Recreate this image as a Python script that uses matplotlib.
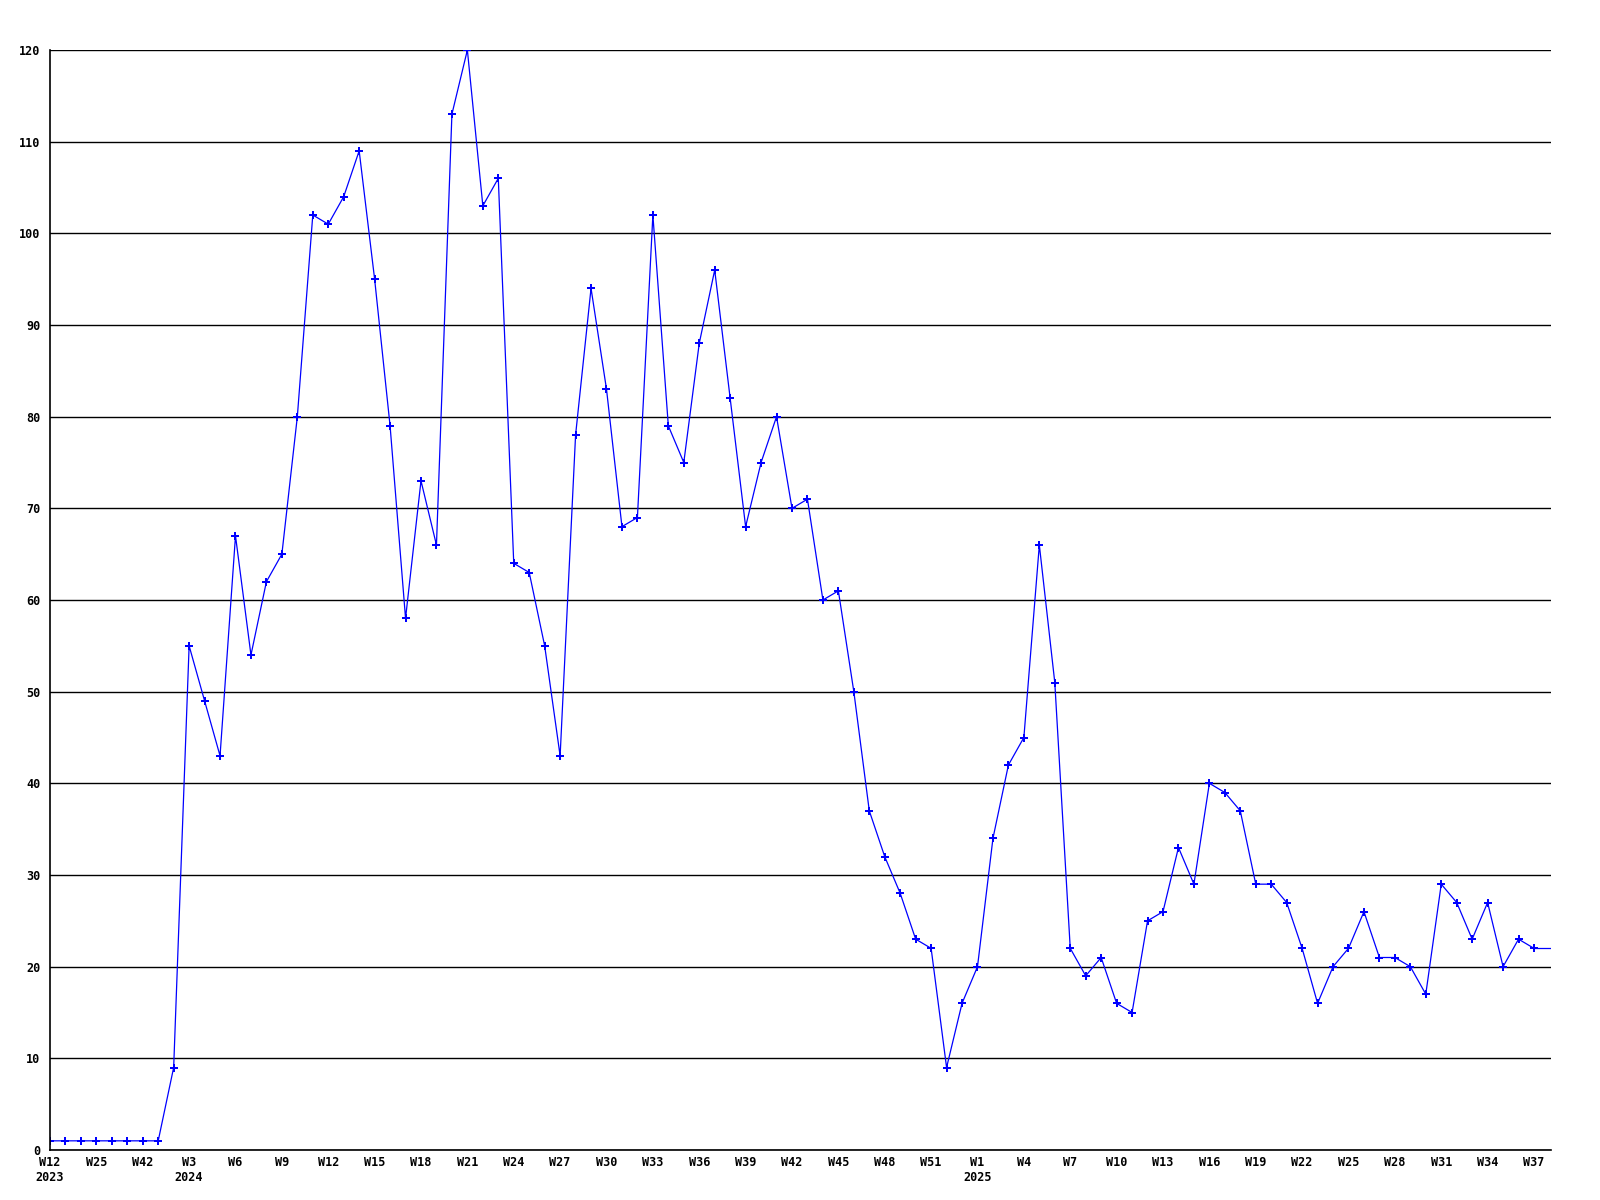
import matplotlib
matplotlib.use("Agg")
import matplotlib.pyplot as plt
import numpy as np

# weekly counts, one value per point
values = [1, 1, 1, 1, 1, 1, 1, 1, 9, 55,
          49, 43, 67, 54, 62, 65, 80, 102, 101, 104,
          109, 95, 79, 58, 73, 66, 113, 120, 103, 106,
          64, 63, 55, 43, 78, 94, 83, 68, 69, 102,
          79, 75, 88, 96, 82, 68, 75, 80, 70, 71,
          60, 61, 50, 37, 32, 28, 23, 22, 9, 16,
          20, 34, 42, 45, 66, 51, 22, 19, 21, 16,
          15, 25, 26, 33, 29, 40, 39, 37, 29, 29,
          27, 22, 16, 20, 22, 26, 21, 21, 20, 17,
          29, 27, 23, 27, 20, 23, 22]

# a label every third point
tick_labels = ["W12\n2023", "W25", "W42", "W3\n2024", "W6", "W9", "W12", "W15",
               "W18", "W21", "W24", "W27", "W30", "W33", "W36", "W39", "W42",
               "W45", "W48", "W51", "W1\n2025", "W4", "W7", "W10", "W13", "W16",
               "W19", "W22", "W25", "W28", "W31", "W34", "W37"]

x = np.arange(len(values))
x_right = len(values) - 1 + 1.1

fig = plt.figure(figsize=(16, 12), dpi=100)
ax = fig.add_axes([50 / 1600, 50 / 1200, 1501 / 1600, 1100 / 1200])

ax.plot(x, values, color="#0000ff", lw=0.9, marker="P", ms=5.5, mew=0)
# line carries on to the right edge at the last value
ax.plot([x[-1], x_right], [values[-1], values[-1]], color="#0000ff", lw=0.9)

ax.set_xlim(0, x_right)
ax.set_ylim(0, 120)
ax.set_yticks(np.arange(0, 121, 10))
ax.yaxis.grid(True, color="black", lw=1)
ax.set_axisbelow(True)

ax.set_xticks(x[::3])
ax.set_xticklabels(tick_labels, va="top", linespacing=1.2)

for s in ["top", "right"]:
    ax.spines[s].set_visible(False)
for s in ["left", "bottom"]:
    ax.spines[s].set_color("black")
    ax.spines[s].set_linewidth(1.2)

ax.tick_params(length=0, labelsize=8.5)
ax.tick_params(axis="y", pad=7)
ax.tick_params(axis="x", pad=4)
for lab in ax.get_xticklabels() + ax.get_yticklabels():
    lab.set_family("DejaVu Sans Mono")
    lab.set_fontweight("bold")

fig.savefig("out.png", dpi=100)
